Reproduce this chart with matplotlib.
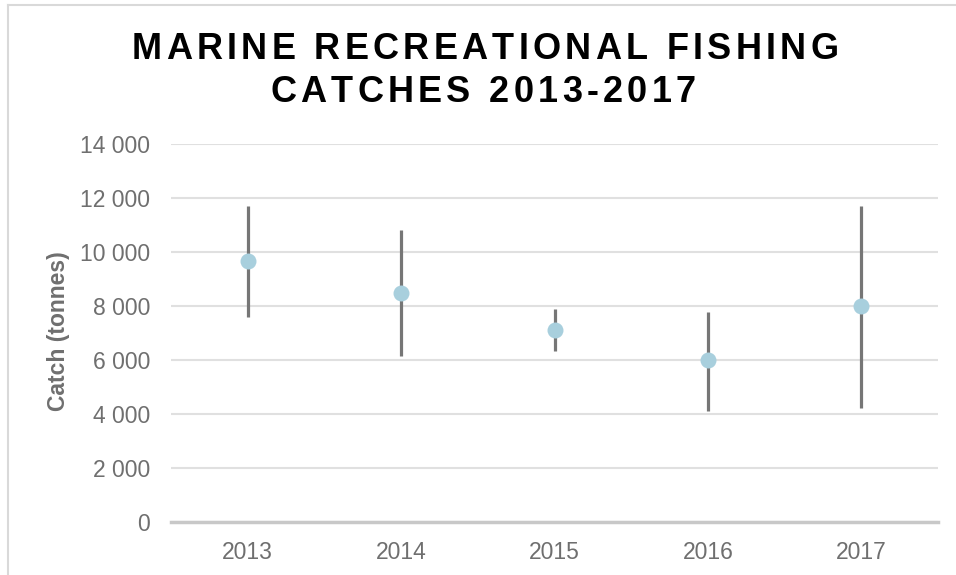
"""
Marine recreational fishing catches 2013-2017, estimate with range.
"""
import numpy as np
from matplotlib import pyplot as plt
from matplotlib.lines import Line2D
from matplotlib.ticker import FuncFormatter

years = ['2013', '2014', '2015', '2016', '2017']
catch = [9670, 8500, 7110, 6000, 8000]
catch_low = [7600, 6150, 6330, 4110, 4220]
catch_high = [11700, 10800, 7880, 7780, 11700]

title_lines = ['MARINE RECREATIONAL FISHING', 'CATCHES 2013-2017']

FONT = ['Liberation Sans', 'DejaVu Sans']
GREY_TXT = '#6f6f6f'

plt.rcParams['font.family'] = FONT

fig = plt.figure(figsize=(9.56, 5.75), dpi=100)
ax = fig.add_axes([171 / 956, 1 - 522 / 575, 767 / 956, 378 / 575])

x = np.arange(len(years))
catch = np.array(catch)
err = [catch - np.array(catch_low), np.array(catch_high) - catch]

ax.errorbar(x, catch, yerr=err, fmt='none', ecolor='#767676', elinewidth=2.3,
            capsize=0, zorder=3)
ax.plot(x, catch, 'o', color='#a8cfdd', markersize=11.5, markeredgewidth=0,
        zorder=4)

ax.set_xlim(-0.5, len(years) - 0.5)
ax.set_ylim(0, 14000)
ax.set_yticks(np.arange(0, 14001, 2000))
ax.yaxis.set_major_formatter(FuncFormatter(lambda v, _: f'{int(v):,}'.replace(',', ' ')))
ax.set_xticks(x)
ax.set_xticklabels(years)

ax.grid(axis='y', color='#e0e0e0', linewidth=1.5, zorder=0)
ax.set_axisbelow(True)
for side in ['top', 'right', 'left']:
    ax.spines[side].set_visible(False)
ax.spines['bottom'].set_color('#c8c8c8')
ax.spines['bottom'].set_linewidth(2.5)
ax.tick_params(axis='both', length=0, labelsize=16.5, labelcolor=GREY_TXT)
ax.tick_params(axis='y', pad=15)
ax.tick_params(axis='x', pad=13.5)

fig.text(58 / 956, 1 - 331 / 575, 'Catch (tonnes)', rotation=90, ha='center',
         va='center', fontsize=16.5, fontweight='bold', color=GREY_TXT)

# title with letter spacing, drawn one character at a time
renderer = fig.canvas.get_renderer()


def tracked_text(s, cx, y, tracking, **kw):
    widths = []
    for ch in s:
        t = fig.text(0, 0, ch if ch != ' ' else 'I', **kw)
        widths.append(t.get_window_extent(renderer).width)
        t.remove()
    total = sum(widths) + tracking * (len(s) - 1)
    xpos = cx - total / 2
    for ch, w in zip(s, widths):
        if ch != ' ':
            fig.text(xpos / 956, y, ch, ha='left', va='baseline', **kw)
        xpos += w + tracking


title_kw = dict(fontsize=26, fontweight='bold', color='black')
tracked_text(title_lines[0], 485, 1 - 59 / 575, 4.3, **title_kw)
tracked_text(title_lines[1], 483, 1 - 102 / 575, 4.3, **title_kw)

# light frame around the chart
fig.add_artist(Line2D([8 / 956, 8 / 956], [0, 1 - 5 / 575], transform=fig.transFigure,
                      color='#d9d9d9', linewidth=1.5))
fig.add_artist(Line2D([8 / 956, 1], [1 - 5 / 575, 1 - 5 / 575], transform=fig.transFigure,
                      color='#d9d9d9', linewidth=1.5))

fig.savefig('out.png', dpi=100, facecolor='white')
